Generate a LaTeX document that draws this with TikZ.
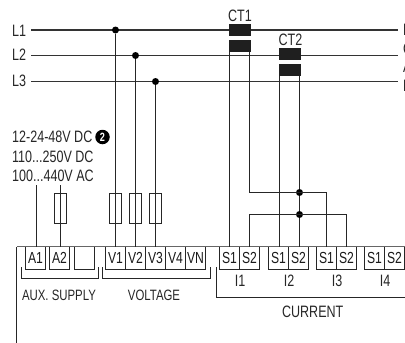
\documentclass[tikz,border=0pt]{standalone}
\usepackage{fontspec}
\setmainfont[FakeStretch=0.76]{Liberation Sans}
\tikzset{
  wire/.style={line width=1.1pt, draw=black!85},
  phase/.style={line width=1.1pt, draw=black!80},
  lbl/.style={inner sep=0pt, text=black!85, font=\fontsize{16.5}{16.5}\selectfont},
  small/.style={inner sep=0pt, text=black!85, font=\fontsize{15}{15}\selectfont},
  term/.style={draw=black!85, line width=1.1pt, minimum width=20pt, minimum height=23pt, inner sep=0pt, outer sep=0pt, text=black!90, font=\fontsize{16}{16}\selectfont},
  fuse/.style={draw=black!85, line width=1.1pt, minimum width=12pt, minimum height=30pt, inner sep=0pt},
  core/.style={fill=black!88, minimum width=22pt, minimum height=12pt, inner sep=0pt},
  dot/.style={circle, fill=black, minimum size=7pt, inner sep=0pt}
}

\begin{document}
\begin{tikzpicture}[x=1pt, y=-1pt]
 \useasboundingbox (0, 0) rectangle (405, 343);
 \clip (0, 0) rectangle (405, 343);

 % phases
 \node[lbl, anchor=west] (l1) at (12, 30.5) {L1};
 \node[lbl, anchor=west] (l2) at (12, 54.5) {L2};
 \node[lbl, anchor=west] (l3) at (12, 80.5) {L3};
 \node[lbl, anchor=west] (r1) at (403, 30) {L};
 \node[lbl, anchor=west] (r2) at (403, 49) {C};
 \node[lbl, anchor=west] (r3) at (403, 67) {A};
 \node[lbl, anchor=west] (r4) at (403, 86) {D};
 \coordinate (p1) at (31, 30);
 \coordinate (p2) at (31, 55.5);
 \coordinate (p3) at (31, 81.5);
 \coordinate (e1) at (398, 30);
 \coordinate (e2) at (398, 55.5);
 \coordinate (e3) at (398, 81.5);

 \draw[phase, line width=1.5pt] (p1) -- (e1);
 \draw[phase] (p2) -- (e2);
 \draw[phase] (p3) -- (e3);

 \node[dot] (d1) at (115.5, 30) {};
 \node[dot] (d2) at (135.5, 55.5) {};
 \node[dot] (d3) at (155.5, 81.5) {};

 % transformers
 \node[lbl] (ct1) at (240, 16) {CT1};
 \node[lbl] (ct2) at (290.5, 40) {CT2};
 \node[core] (c1a) at (240, 30) {};
 \node[core] (c1b) at (240, 46) {};
 \node[core] (c2a) at (290, 54) {};
 \node[core] (c2b) at (290, 70) {};

 % supply
 \node[lbl, anchor=west] (s1) at (12, 137) {12-24-48V DC};
 \node[lbl, anchor=west] (s2) at (12, 156.5) {110...250V DC};
 \node[lbl, anchor=west] (s3) at (12, 176) {100...440V AC};
 \node[circle, fill=black, text=white, inner sep=0pt, minimum size=14.5pt, font=\fontsize{12}{12}\bfseries\selectfont] (note) at (102.5, 137) {2};

 % terminals
 \node[term] (a1) at (35.5, 258) {A1};
 \node[term] (a2) at (59.5, 258) {A2};
 \node[term] (a3) at (84.5, 258) {};
 \node[term] (v1) at (115.5, 258) {V1};
 \node[term] (v2) at (135.5, 258) {V2};
 \node[term] (v3) at (155.5, 258) {V3};
 \node[term] (v4) at (175.5, 258) {V4};
 \node[term] (vn) at (195.5, 258) {VN};
 \node[term] (i1a) at (229.5, 258) {S1};
 \node[term] (i1b) at (249.5, 258) {S2};
 \node[term] (i2a) at (278.5, 258) {S1};
 \node[term] (i2b) at (298.5, 258) {S2};
 \node[term] (i3a) at (326.5, 258) {S1};
 \node[term] (i3b) at (346.5, 258) {S2};
 \node[term] (i4a) at (374.5, 258) {S1};
 \node[term] (i4b) at (394.5, 258) {S2};

 \node[small] (aux) at (59, 295) {AUX. SUPPLY};
 \node[small] (volt) at (154, 295.5) {VOLTAGE};
 \node[lbl] (t1) at (240, 281) {I1};
 \node[lbl] (t2) at (289, 281) {I2};
 \node[lbl] (t3) at (337, 281) {I3};
 \node[lbl] (t4) at (385, 281) {I4};
 \node[lbl] (cur) at (312.7, 311.5) {CURRENT};

 % housing
 \coordinate (h1) at (16.5, 246.5);
 \coordinate (h2) at (16.5, 343);
 \coordinate (h3) at (405, 246.5);
 \draw[wire] (h2) -- (h1);
 \draw[line width=0.8pt, draw=black!60] (h1) -- (h3);

 % brackets
 \coordinate (b1) at (21.5, 267);
 \coordinate (b2) at (98.5, 267);
 \coordinate (b3) at (102.5, 267);
 \coordinate (b4) at (210.5, 267);
 \coordinate (b5) at (216.5, 267);
 \coordinate (b6) at (405, 297.5);
 \draw[wire] (b1) |- (98.5, 278.5) -- (b2);
 \draw[wire] (b3) |- (210.5, 278.5) -- (b4);
 \draw[wire] (b5) |- (b6);

 % supply wiring
 \coordinate (w1) at (36.5, 185);
 \coordinate (w2) at (60.5, 185);
 \node[fuse] (f0) at (60.5, 208.5) {};
 \node[fuse] (f1) at (115.5, 208.5) {};
 \node[fuse] (f2) at (135.5, 208.5) {};
 \node[fuse] (f3) at (155.5, 208.5) {};

 \draw[wire] (w1) -- (w1 |- a1.north);
 \draw[wire] (w2) -- (w2 |- a2.north);
 \draw[wire] (d1) -- (v1.north);
 \draw[wire] (d2) -- (v2.north);
 \draw[wire] (d3) -- (v3.north);

 % current wiring
 \coordinate (k1) at (249.5, 192.5);
 \coordinate (k2) at (326.5, 192.5);
 \coordinate (k4) at (346.5, 214.5);
 \coordinate (m1) at (229.5, 52);
 \coordinate (m2) at (249.5, 52);
 \coordinate (m3) at (279.5, 76);
 \coordinate (m4) at (299.5, 76);
 \node[dot] (j1) at (299.5, 192.5) {};
 \node[dot] (j2) at (299.5, 214.5) {};

 \draw[wire] (m1) -- (m1 |- i1a.north);
 \draw[wire] (m2) -- (k1) -- (k2) -- (i3a.north);
 \draw[wire] (i1b.north) |- (k4) -- (i3b.north);
 \draw[wire] (m3) -- (m3 |- i2a.north);
 \draw[wire] (m4) -- (j1) -- (j2) -- (j2 |- i2b.north);
\end{tikzpicture}
\end{document}
